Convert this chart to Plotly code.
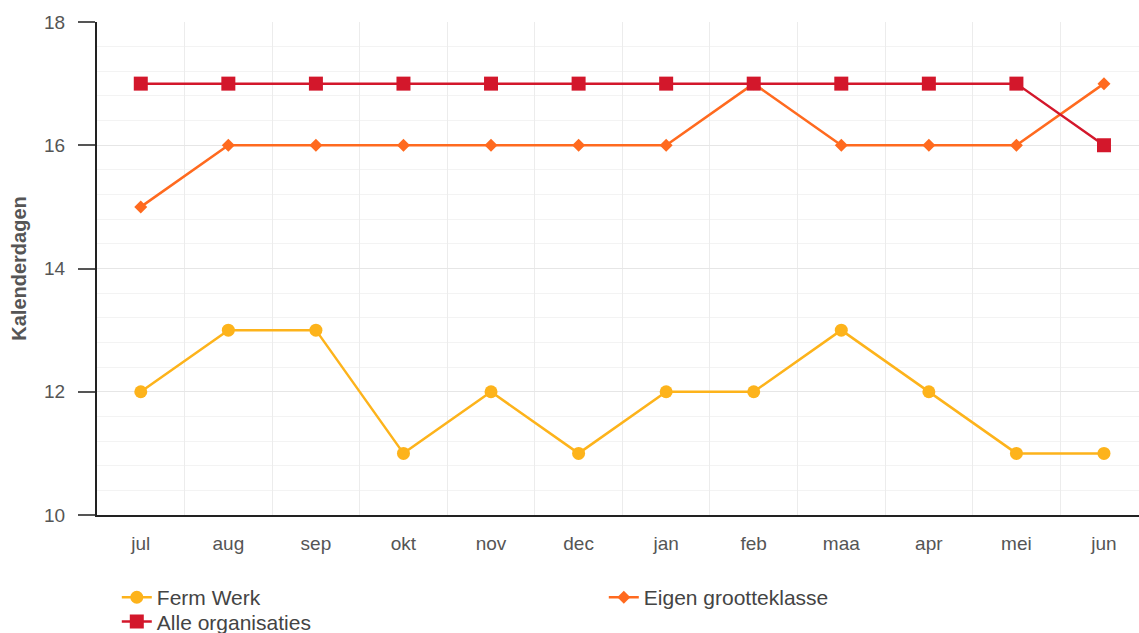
import plotly.graph_objects as go

months = ["jul", "aug", "sep", "okt", "nov", "dec", "jan", "feb", "maa", "apr", "mei", "jun"]
ferm_werk = [12, 13, 13, 11, 12, 11, 12, 12, 13, 12, 11, 11]
eigen_grootteklasse = [15, 16, 16, 16, 16, 16, 16, 17, 16, 16, 16, 17]
alle_organisaties = [17, 17, 17, 17, 17, 17, 17, 17, 17, 17, 17, 16]

fig = go.Figure()
fig.add_trace(go.Scatter(x=months, y=ferm_werk, name="Ferm Werk", mode="lines+markers",
                         line=dict(color="#FDB31B", width=2.5),
                         marker=dict(symbol="circle", size=13, color="#FDB31B"),
                         legend="legend"))
fig.add_trace(go.Scatter(x=months, y=eigen_grootteklasse, name="Eigen grootteklasse", mode="lines+markers",
                         line=dict(color="#FF6A1F", width=2.5),
                         marker=dict(symbol="diamond", size=10, color="#FF6A1F"),
                         legend="legend"))
fig.add_trace(go.Scatter(x=months, y=alle_organisaties, name="Alle organisaties", mode="lines+markers",
                         line=dict(color="#D3172B", width=2.5),
                         marker=dict(symbol="square", size=14, color="#D3172B"),
                         legend="legend2"))

legend_font = dict(size=21, color="#444444", family="Arial, Liberation Sans, sans-serif")
fig.update_layout(
    width=1139, height=633,
    margin=dict(l=97, r=0, t=22, b=118, autoexpand=False),
    paper_bgcolor="white", plot_bgcolor="white",
    font=dict(family="Arial, Liberation Sans, sans-serif", color="#555555"),
    showlegend=True,
    legend=dict(orientation="h", x=0.019, xanchor="left", y=-0.126, yanchor="top",
                font=legend_font, entrywidth=442, entrywidthmode="pixels",
                tracegroupgap=0, itemwidth=30, bgcolor="rgba(0,0,0,0)"),
    legend2=dict(orientation="h", x=0.019, xanchor="left", y=-0.175, yanchor="top",
                 font=legend_font, tracegroupgap=0, itemwidth=30, bgcolor="rgba(0,0,0,0)"),
)
fig.update_xaxes(
    type="category", range=[-0.5, 11.4], tickson="boundaries", ticks="",
    showgrid=True, gridcolor="#ececec", gridwidth=1,
    showline=True, linecolor="#222222", linewidth=2,
    tickfont=dict(size=19, color="#555555"), ticklabelstandoff=10,
    zeroline=False, automargin=False,
)
fig.update_yaxes(
    range=[10, 18], dtick=2, tick0=10,
    showgrid=True, gridcolor="#e6e6e6", gridwidth=1,
    minor=dict(dtick=0.4, tick0=10, showgrid=True, gridcolor="#f3f3f3", gridwidth=1),
    ticks="outside", ticklen=17, tickwidth=2, tickcolor="#555555",
    showline=True, linecolor="#222222", linewidth=2,
    tickfont=dict(size=19, color="#555555"), ticklabelstandoff=9,
    title=dict(text="<b>Kalenderdagen</b>", font=dict(size=20, color="#555555"), standoff=12),
    zeroline=False, automargin=False,
)

fig.write_html("out.html", config={"displayModeBar": False},
               post_script="document.body.style.margin='0';")
